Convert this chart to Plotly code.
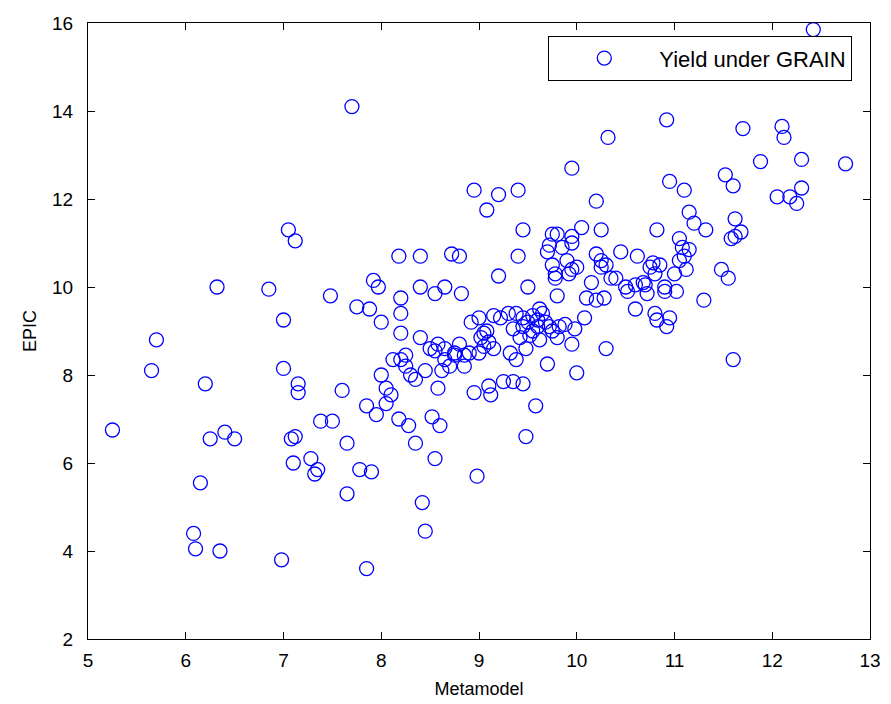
import plotly.graph_objects as go

metamodel = [
    5.25, 5.65, 5.70, 6.08, 6.10, 6.15, 6.20, 6.25, 6.32, 6.35, 6.40, 6.50,
    6.85, 6.98, 7.00, 7.00, 7.05, 7.08, 7.10, 7.12, 7.12, 7.15, 7.15, 7.28,
    7.32, 7.35, 7.38, 7.48, 7.50, 7.60, 7.65, 7.65, 7.70, 7.75, 7.78, 7.85,
    7.85, 7.88, 7.90, 7.92, 7.95, 7.97, 8.00, 8.00, 8.05, 8.05, 8.10, 8.12,
    8.18, 8.18, 8.20, 8.20, 8.20, 8.20, 8.25, 8.25, 8.28, 8.30, 8.35, 8.35,
    8.40, 8.40, 8.40, 8.42, 8.45, 8.45, 8.50, 8.52, 8.55, 8.55, 8.55, 8.58,
    8.58, 8.60, 8.62, 8.65, 8.65, 8.65, 8.70, 8.72, 8.75, 8.75, 8.80, 8.80,
    8.82, 8.85, 8.85, 8.90, 8.92, 8.95, 8.95, 8.98, 9.00, 9.00, 9.02, 9.05,
    9.05, 9.08, 9.08, 9.10, 9.10, 9.12, 9.15, 9.15, 9.20, 9.20, 9.22, 9.25,
    9.30, 9.32, 9.35, 9.35, 9.38, 9.38, 9.40, 9.40, 9.42, 9.45, 9.45, 9.45,
    9.45, 9.48, 9.48, 9.50, 9.50, 9.52, 9.55, 9.55, 9.58, 9.60, 9.60, 9.62,
    9.62, 9.65, 9.68, 9.70, 9.70, 9.72, 9.72, 9.75, 9.75, 9.75, 9.78, 9.78,
    9.80, 9.80, 9.80, 9.82, 9.85, 9.88, 9.90, 9.92, 9.95, 9.95, 9.95, 9.95,
    9.95, 9.98, 10.00, 10.00, 10.05, 10.08, 10.10, 10.15, 10.20, 10.20, 10.20, 10.25,
    10.25, 10.25, 10.28, 10.30, 10.30, 10.32, 10.35, 10.40, 10.45, 10.50, 10.52, 10.60,
    10.60, 10.62, 10.68, 10.70, 10.72, 10.75, 10.78, 10.80, 10.80, 10.82, 10.82, 10.85,
    10.90, 10.90, 10.92, 10.92, 10.95, 10.95, 11.00, 11.02, 11.05, 11.05, 11.08, 11.10,
    11.10, 11.12, 11.15, 11.15, 11.20, 11.30, 11.32, 11.48, 11.52, 11.55, 11.58, 11.60,
    11.60, 11.62, 11.62, 11.68, 11.70, 11.88, 12.05, 12.10, 12.12, 12.18, 12.25, 12.30,
    12.30, 12.42, 12.75,
]

epic = [
    6.75, 8.10, 8.80, 4.40, 4.05, 5.55, 7.80, 6.55, 10.00, 4.00, 6.70, 6.55,
    9.95, 3.80, 9.25, 8.15, 11.30, 6.55, 6.00, 6.60, 11.05, 7.80, 7.60, 6.10,
    5.75, 5.85, 6.95, 9.80, 6.95, 7.65, 6.45, 5.30, 14.10, 9.55, 5.85, 7.30,
    3.60, 9.50, 5.80, 10.15, 7.10, 10.00, 9.20, 8.00, 7.70, 7.35, 7.55, 8.35,
    7.00, 10.70, 9.75, 9.40, 8.95, 8.35, 8.45, 8.20, 6.85, 8.00, 7.90, 6.45,
    10.70, 10.00, 8.85, 5.10, 4.45, 8.10, 8.60, 7.05, 9.85, 8.55, 6.10, 8.70,
    7.70, 6.85, 8.10, 10.00, 8.60, 8.35, 8.20, 10.75, 8.50, 8.45, 10.70, 8.70,
    9.85, 8.20, 8.45, 8.50, 9.20, 12.20, 7.60, 5.70, 9.30, 8.50, 8.85, 8.65,
    8.95, 9.00, 11.75, 8.75, 7.75, 7.55, 9.35, 8.60, 12.10, 10.25, 9.30, 7.85,
    9.40, 8.50, 9.05, 7.85, 8.35, 9.40, 12.20, 10.70, 8.85, 11.30, 9.30, 9.10,
    7.80, 6.60, 8.60, 10.00, 9.20, 8.90, 9.35, 9.00, 7.30, 9.25, 9.10, 9.50,
    8.80, 9.40, 9.20, 10.80, 8.25, 10.95, 9.10, 11.20, 10.50, 9.00, 10.30, 10.20,
    11.20, 9.80, 8.85, 9.10, 10.90, 9.15, 10.60, 10.30, 12.70, 11.15, 11.00, 10.40,
    8.70, 9.05, 10.45, 8.05, 11.35, 9.30, 9.75, 10.10, 11.95, 10.75, 9.70, 11.30,
    10.60, 10.45, 9.75, 10.50, 8.60, 13.40, 10.20, 10.20, 10.80, 10.00, 9.90, 10.05,
    9.50, 10.70, 10.10, 10.05, 9.85, 10.45, 10.55, 10.30, 9.40, 11.30, 9.25, 10.50,
    9.90, 10.00, 13.80, 9.10, 9.30, 12.40, 10.30, 9.90, 11.10, 10.60, 10.90, 12.20,
    10.70, 10.40, 11.70, 10.85, 11.45, 9.70, 11.30, 10.40, 12.55, 10.20, 11.10, 12.30,
    8.35, 11.55, 11.15, 11.25, 13.60, 12.85, 12.05, 13.65, 13.40, 12.05, 11.90, 12.25,
    12.90, 15.85, 12.80,
]

x_ticks = [5, 6, 7, 8, 9, 10, 11, 12, 13]
y_ticks = [2, 4, 6, 8, 10, 12, 14, 16]

font_family = "Liberation Sans, Arial, sans-serif"

fig = go.Figure()
fig.add_trace(go.Scatter(
    x=metamodel, y=epic, mode="markers", name="Yield under GRAIN",
    marker=dict(symbol="circle-open", size=14, color="#0000FF",
                line=dict(width=1.3, color="#0000FF")),
))

axis_common = dict(
    showline=True, linecolor="#000000", linewidth=1.3, mirror="ticks",
    ticks="inside", ticklen=7, tickcolor="#000000", tickwidth=1.3,
    showgrid=False, zeroline=False, automargin=False,
    tickfont=dict(family=font_family, size=19, color="#000000"),
)

fig.update_layout(
    width=891, height=704,
    margin=dict(l=88, r=21, t=23, b=65),
    paper_bgcolor="#FFFFFF", plot_bgcolor="#FFFFFF",
    font=dict(family=font_family, color="#000000"),
    xaxis=dict(range=[5, 13], tickvals=x_ticks, ticktext=[str(v) for v in x_ticks],
               title=dict(text="Metamodel", font=dict(size=18), standoff=12),
               ticklabelstandoff=4,
               **axis_common),
    yaxis=dict(range=[2, 16], tickvals=y_ticks, ticktext=[str(v) for v in y_ticks],
               title=dict(text="EPIC", font=dict(size=18), standoff=10),
               ticklabelstandoff=10,
               **axis_common),
    showlegend=True,
    legend=dict(x=0.977, y=0.979, xanchor="right", yanchor="top",
                bordercolor="#000000", borderwidth=1.3, bgcolor="#FFFFFF",
                font=dict(family=font_family, size=22),
                itemwidth=100, tracegroupgap=0),
)

fig.write_html("out.html")
